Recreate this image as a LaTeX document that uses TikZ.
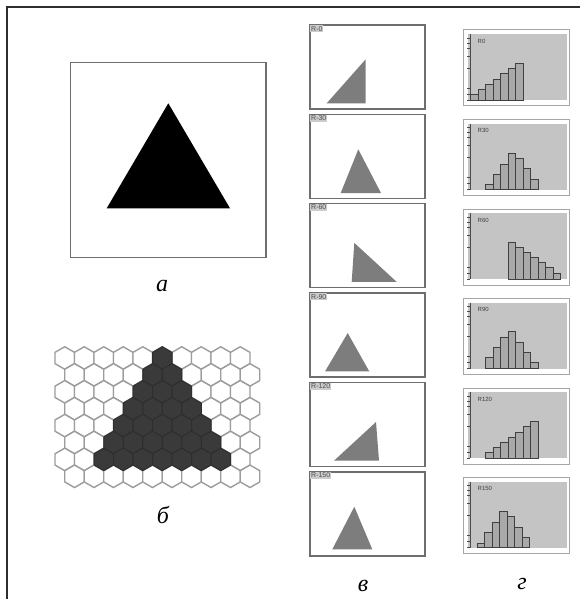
\documentclass[tikz,border=0pt]{standalone}
\usepackage{fontspec}
\setmainfont{Liberation Serif}
\setsansfont{Liberation Sans}
\usetikzlibrary{positioning}
\definecolor{frm}{HTML}{2E2E2E}
\definecolor{pnl}{HTML}{6E6E6E}
\definecolor{tri}{HTML}{7D7D7D}
\definecolor{hexl}{HTML}{9C9C9C}
\definecolor{hexd}{HTML}{3A3A3A}
\definecolor{hbg}{HTML}{C4C4C4}
\definecolor{hbar}{HTML}{A9A9A9}
\newcommand{\hexR}{11.26}
\tikzset{
  figlbl/.style={font=\fontsize{24}{28}\selectfont\itshape,anchor=base,inner sep=0pt},
  pnlbox/.style={draw=pnl,line width=1.5pt,fill=white},
  tag/.style={anchor=north west,fill=gray!40,inner sep=1pt,text=black!70,font=\sffamily\fontsize{7}{8}\selectfont},
  hexw/.style={draw=hexl,line width=1.4pt,fill=white},
  hexk/.style={draw=hexd!80!black,line width=1pt,fill=hexd},
  histbox/.style={draw=gray!70,line width=1pt,fill=white},
  axis/.style={draw=gray!60!black,line width=0.5pt},
  bar/.style={draw=black!75,line width=0.7pt,fill=hbar},
  hlbl/.style={anchor=west,inner sep=0.5pt,text=black!75,font=\sffamily\fontsize{6}{7}\selectfont},
}

\begin{document}
\begin{tikzpicture}[x=1pt,y=-1pt]
\useasboundingbox (0,0) rectangle (580,599);
\draw[frm,line width=1.2pt] (580,7) -- (7,7) -- (7,599);

% a: source image
\draw[pnlbox] (70.7,62.3) rectangle (266,257.3);
\fill (168.3,103.3) -- (106.7,208.3) -- (230,208.3) -- cycle;
\node[figlbl] (capa) at (162,291.7) {а};

% b: hexagonal cells
\foreach \r in {0,...,7}
  \foreach \k in {0,...,9}{
    \pgfmathsetmacro{\cx}{64.75+19.5*\k+9.75*mod(\r,2)}
    \pgfmathsetmacro{\cy}{358+16.9*\r}
    \draw[hexw] (\cx,\cy) +(30:\hexR) -- +(90:\hexR) -- +(150:\hexR) -- +(210:\hexR) -- +(270:\hexR) -- +(330:\hexR) -- cycle;
  }
\foreach \r in {0,...,6}
  \foreach \k in {0,...,9}{
    \pgfmathsetmacro{\cx}{64.75+19.5*\k+9.75*mod(\r,2)}
    \pgfmathsetmacro{\cy}{358+16.9*\r}
    \pgfmathtruncatemacro{\dk}{abs(\cx-162.25)<(\r+1)*9.75-1 ? 1 : 0}
    \ifnum\dk=1
      \draw[hexk] (\cx,\cy) +(30:\hexR) -- +(90:\hexR) -- +(150:\hexR) -- +(210:\hexR) -- +(270:\hexR) -- +(330:\hexR) -- cycle;
    \fi
  }
\node[figlbl] (capb) at (163,523.3) {б};

% c: rotated copies
\foreach \lab/\pa/\pb/\pc [count=\i from 0] in {
  R-0/{16.7,78.3}/{55.7,78.3}/{55.7,34.3},
  R-30/{48.3,35}/{30.7,78.7}/{71,78.7},
  R-60/{44.3,39.2}/{41.7,78.2}/{86.7,78.2},
  R-90/{37.7,40}/{15,78.4}/{59.3,78.4},
  R-120/{66,39.6}/{24,78.3}/{69,78.3},
  R-150/{44.3,35}/{22.3,77.6}/{62.3,77.6}}{
  \begin{scope}[shift={(310,25+89.35*\i)}]
    \draw[pnlbox] (0,0) rectangle (115,84);
    \fill[tri] (\pa) -- (\pb) -- (\pc) -- cycle;
    \node[tag] (tag\i) at (0,0) {\lab};
  \end{scope}
}
\node[figlbl] (capc) at (363,591.7) {в};

% d: histograms
\foreach \lab/\sx/\hs [count=\i from 0] in {
  R0/7.7/{5.7,10.7,15.7,20.7,26.3,31.3,36.7},
  R30/22.7/{5.3,15.3,25.3,36,31,21,10},
  R60/45.3/{36.3,31.3,26.3,21.3,16.3,11.3,5.7},
  R90/22.7/{11.3,21.3,31.3,36.7,26.3,16.3,5.7},
  R120/22.7/{5.7,11,16,21,26,31.7,36.7},
  R150/14.3/{4.3,15,25,35.7,30.7,20,10}}{
  \begin{scope}[shift={(463,30+89.5*\i)}]
    \draw[histbox] (0,0) rectangle (106,76);
    \fill[hbg] (5,4) rectangle (104,70);
    \draw[axis] (7,4) -- (7,70);
    \foreach \t in {8,13,18,26,38,58,64,70}
      \draw[axis] (4,\t) -- (7,\t);
    \foreach \h [count=\j from 0] in \hs
      \draw[bar] (\sx+7.5*\j,70) rectangle ++(7.5,-\h);
    \node[hlbl] (hl\i) at (14,11) {\lab};
  \end{scope}
}
\node[figlbl] (capd) at (522,589.3) {г};
\end{tikzpicture}
\end{document}
